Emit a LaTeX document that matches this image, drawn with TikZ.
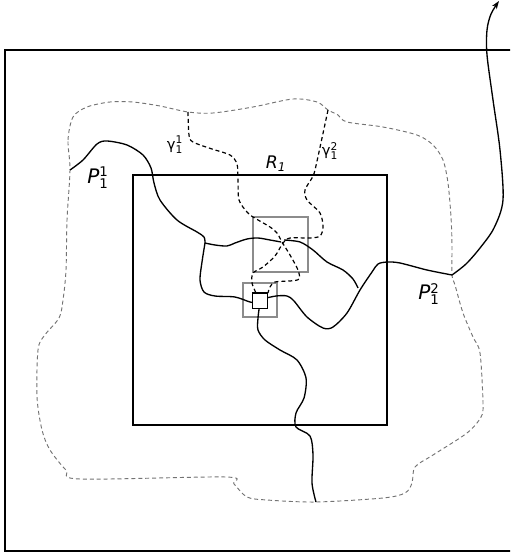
\documentclass[tikz,border=0pt]{standalone}
\usepackage{fontspec}
\setmainfont{DejaVu Sans}
\usetikzlibrary{arrows.meta}
\newcommand\pathlabel[4]{#1$^{\mbox{\fontsize{#4}{#4}\selectfont #3}}_{\mbox{\fontsize{#4}{#4}\selectfont #2}}$}
\tikzset{
  wire/.style={black, line width=1pt},
  gamma path/.style={black, line width=0.9pt, dash pattern=on 3pt off 2.2pt},
  region/.style={black!55, line width=0.7pt, dash pattern=on 3pt off 2.2pt},
  window/.style={draw=black!45, line width=1.1pt, inner sep=0pt},
}
\begin{document}
\begin{tikzpicture}[x=0.75pt,y=-0.75pt,>={Stealth[length=6pt,width=4.2pt,inset=1.8pt]}]
\useasboundingbox (0,0) rectangle (510,556);
\clip (0,0) rectangle (510,556);
%%
\draw [wire] (5,50) rectangle (530,551);
\draw [wire] (133,175) rectangle (387,425);
\node (win_big) at (280.5,244.5) [window, minimum size=41.25pt] {};
\node (win_small) at (260,300) [window, minimum size=25.5pt] {};
%
\coordinate (p_start) at (70,170);
\coordinate (j_left) at (205,243);
\coordinate (hub_l) at (281,242);
\coordinate (hub_r) at (284,240);
\coordinate (j_right) at (358,288);
\coordinate (exit) at (452,275);
\coordinate (tip) at (499,1);
\coordinate (foot) at (316,502);
\coordinate (g1_top) at (188,112);
\coordinate (g2_top) at (328,110);
%
\draw [region] plot [smooth cycle] coordinates {(p_start) (68,140) (73,117) (87,107) (110,102) (133,102) (160,106) (g1_top) (213,113) (253,107) (293,99) (317,102) (g2_top) (338,115) (347,122) (383,127) (417,135) (433,145) (443,160) (448,183) (451,217) (452,245) (exit) (455,285) (463,313) (473,337) (480,353) (483,403) (481,417) (467,433) (433,455) (415,467) (412,483) (405,493) (383,498) (foot) (267,500) (247,497) (234,484) (226,477) (80,479) (66,470) (50,450) (42,430) (37,397) (38,350) (44,336) (59,318) (63,300) (66,270) (67,220)};
%
\draw [gamma path] plot [smooth] coordinates {(g1_top) (189,135) (193,142) (212,149) (230,155) (237,164) (238,180) (239,200) (247,212) (253,217) (270,227) (277,233) (282,242) (290,255) (298,270) (299,279) (290,281) (275,282) (270,287) (268,293)};
\draw [gamma path] plot [smooth] coordinates {(g2_top) (322,138) (315,170) (312,178) (305,190) (307,200) (320,213) (323,227) (320,236) (310,238) (290,238) (283,243) (275,256) (263,267) (253,273) (252,283) (256,293)};
%
\draw [wire] plot [smooth] coordinates {(p_start) (83,160) (97,144) (107,141) (127,145) (143,155) (151,168) (154,183) (160,200) (177,220) (197,232) (204,237) (j_left)};
\draw [wire] plot [smooth] coordinates {(j_left) (215,245) (227,246) (235,243) (247,239) (258,238) (270,240) (hub_l)};
\draw [wire] plot [smooth] coordinates {(hub_r) (300,242) (313,250) (327,262) (343,270) (353,279) (j_right)};
\draw [wire] plot [smooth] coordinates {(j_left) (202,262) (200,280) (204,292) (215,296) (235,297) (250,302) (258,303)};
\draw [wire] plot [smooth] coordinates {(262,299) (276,296) (287,296) (294,301) (307,317) (323,328) (333,327) (347,313) (360,290) (372,272) (378,264) (387,262) (400,263) (427,270) (exit)};
\draw [wire,->] plot [smooth] coordinates {(exit) (466,264) (480,248) (494,228) (503,200) (500,150) (493,100) (487,55) (487,30) (491,14) (tip)};
\draw [wire] plot [smooth] coordinates {(260,302) (258,318) (258,330) (265,340) (280,350) (297,360) (306,378) (304,398) (296,413) (296,427) (310,436) (313,455) (312,483) (foot)};
%
\node (sq) at (260,300.5) [draw, fill=white, line width=1pt, minimum size=11.5pt, inner sep=0pt] {};
%
\node (lab_p1) at (98,178) [font=\fontsize{15}{18}\selectfont] {\pathlabel{\textit{P}}{1}{1}{10}};
\node (lab_p2) at (429,294) [font=\fontsize{15}{18}\selectfont] {\pathlabel{\textit{P}}{1}{2}{10}};
\node (lab_r) at (276,164) [font=\fontsize{13}{15}\selectfont] {\textit{R}$_{\mbox{\fontsize{9}{9}\selectfont\itshape 1}}$};
\node (lab_g1) at (175,145) [font=\fontsize{11}{13}\selectfont] {\pathlabel{γ}{1}{1}{8}};
\node (lab_g2) at (330,151) [font=\fontsize{11}{13}\selectfont] {\pathlabel{γ}{1}{2}{8}};
%
\end{tikzpicture}
\end{document}
